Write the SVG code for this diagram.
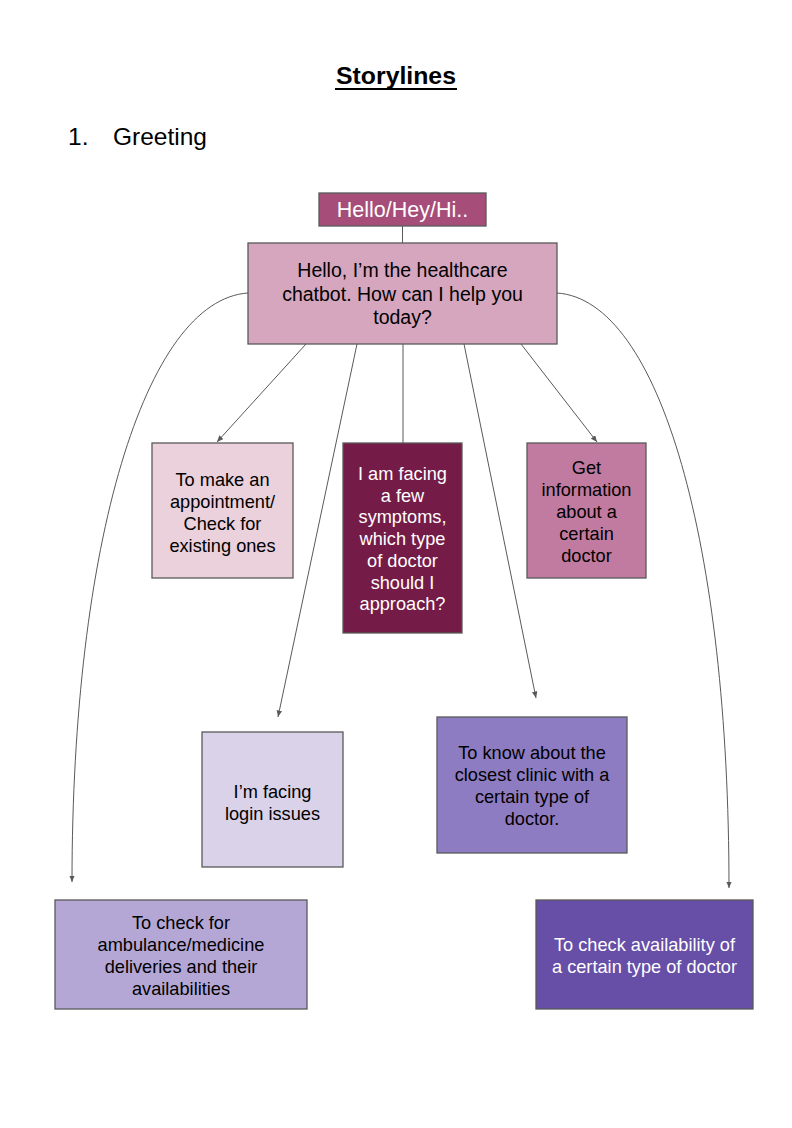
<svg xmlns="http://www.w3.org/2000/svg" width="792" height="1128" viewBox="0 0 792 1128">
<style>
.t{font-family:"Liberation Sans",Arial,sans-serif;text-anchor:middle;fill:#000}
.w{fill:#fff}
.box{stroke:#595959;stroke-width:1.3}
.c{fill:none;stroke:#595959;stroke-width:1}
</style>
<defs>
<marker id="ah" markerUnits="userSpaceOnUse" markerWidth="7" markerHeight="6" refX="6.5" refY="2.75" orient="auto">
<path d="M0,0 L6.5,2.75 L0,5.5 z" fill="#595959"/>
</marker>
</defs>
<rect width="792" height="1128" fill="#fff"/>
<g id="title">
<text class="t" x="396" y="84" font-size="24.8" font-weight="bold">Storylines</text>
<rect x="335" y="88" width="122" height="2" fill="#000"/>
<text class="t" x="68" y="145" font-size="24.5" style="text-anchor:start">1.</text>
<text class="t" x="113" y="145" font-size="24.5" style="text-anchor:start">Greeting</text>
</g>
<g id="connectors">
<line class="c" x1="402.5" y1="226" x2="402.5" y2="243"/>
<line class="c" x1="306" y1="344" x2="217" y2="442" marker-end="url(#ah)"/>
<line class="c" x1="357" y1="344" x2="278" y2="717" marker-end="url(#ah)"/>
<line class="c" x1="403" y1="344" x2="403" y2="443"/>
<line class="c" x1="464" y1="344" x2="536" y2="698" marker-end="url(#ah)"/>
<line class="c" x1="521" y1="344" x2="597" y2="442" marker-end="url(#ah)"/>
<path class="c" d="M248,293 C145,300 72,545 72,882" marker-end="url(#ah)"/>
<path class="c" d="M557,293 C660,300 729,545 729,888" marker-end="url(#ah)"/>
</g>
<g id="n-hello">
<rect class="box" x="319" y="193" width="167" height="33" fill="#a64d79"/>
<text class="t w" x="402.5" y="217" font-size="21.5">Hello/Hey/Hi..</text>
</g>
<g id="n-bot">
<rect class="box" x="248" y="243" width="309" height="101" fill="#d5a6bd"/>
<text class="t" font-size="19.5"><tspan x="402.5" y="277">Hello, I’m the healthcare</tspan><tspan x="402.5" y="300.5">chatbot. How can I help you</tspan><tspan x="402.5" y="324">today?</tspan></text>
</g>
<g id="n-appointment">
<rect class="box" x="152" y="443" width="141" height="135" fill="#ead1dc"/>
<text class="t" font-size="18.2"><tspan x="222.5" y="485.5">To make an</tspan><tspan x="222.5" y="507.5">appointment/</tspan><tspan x="222.5" y="529.5">Check for</tspan><tspan x="222.5" y="551.5">existing ones</tspan></text>
</g>
<g id="n-symptoms">
<rect class="box" x="343" y="443" width="119" height="190" fill="#741b47"/>
<text class="t w" font-size="18.2"><tspan x="402.5" y="480">I am facing</tspan><tspan x="402.5" y="501.7">a few</tspan><tspan x="402.5" y="523.4">symptoms,</tspan><tspan x="402.5" y="545.1">which type</tspan><tspan x="402.5" y="566.8">of doctor</tspan><tspan x="402.5" y="588.5">should I</tspan><tspan x="402.5" y="610.2">approach?</tspan></text>
</g>
<g id="n-doctorinfo">
<rect class="box" x="527" y="443" width="119" height="135" fill="#c27ba0"/>
<text class="t" font-size="18.2"><tspan x="586.5" y="473.5">Get</tspan><tspan x="586.5" y="495.5">information</tspan><tspan x="586.5" y="517.5">about a</tspan><tspan x="586.5" y="539.5">certain</tspan><tspan x="586.5" y="561.5">doctor</tspan></text>
</g>
<g id="n-login">
<rect class="box" x="202" y="732" width="141" height="135" fill="#d9d2e9"/>
<text class="t" font-size="18.2"><tspan x="272.5" y="797.5">I’m facing</tspan><tspan x="272.5" y="819.5">login issues</tspan></text>
</g>
<g id="n-clinic">
<rect class="box" x="437" y="717" width="190" height="136" fill="#8e7cc3"/>
<text class="t" font-size="18.2"><tspan x="532" y="758.5">To know about the</tspan><tspan x="532" y="780.5">closest clinic with a</tspan><tspan x="532" y="802.5">certain type of</tspan><tspan x="532" y="824.5">doctor.</tspan></text>
</g>
<g id="n-ambulance">
<rect class="box" x="55" y="900" width="252" height="109" fill="#b4a7d6"/>
<text class="t" font-size="18.2"><tspan x="181" y="928.5">To check for</tspan><tspan x="181" y="950.5">ambulance/medicine</tspan><tspan x="181" y="972.5">deliveries and their</tspan><tspan x="181" y="994.5">availabilities</tspan></text>
</g>
<g id="n-availability">
<rect class="box" x="536" y="900" width="217" height="109" fill="#674ea7"/>
<text class="t w" font-size="18.2"><tspan x="644.5" y="950.5">To check availability of</tspan><tspan x="644.5" y="972.5">a certain type of doctor</tspan></text>
</g>
</svg>
